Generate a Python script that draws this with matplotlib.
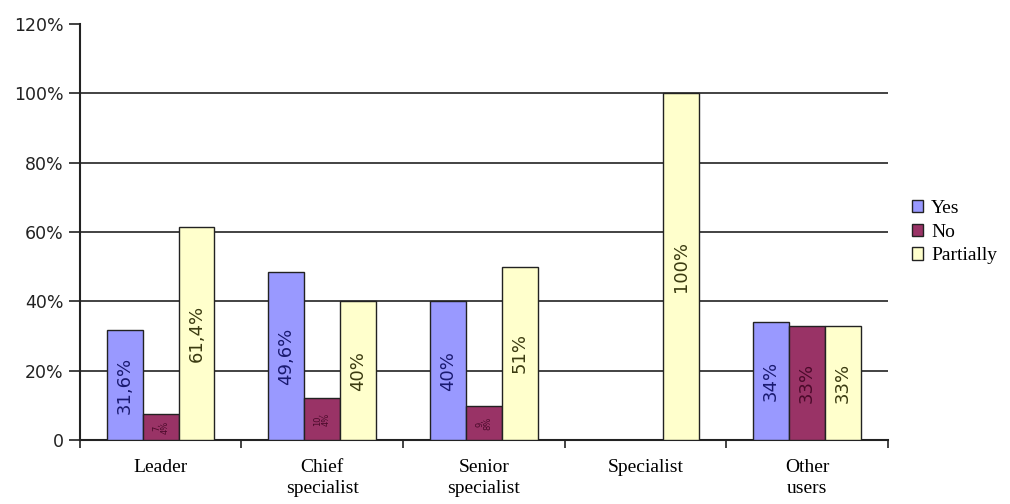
import numpy as np
import matplotlib
matplotlib.use("Agg")
import matplotlib.pyplot as plt

# data
categories = ["Leader", "Chief\nspecialist", "Senior\nspecialist", "Specialist", "Other\nusers"]
series = ["Yes", "No", "Partially"]
yes_vals = [31.6, 48.5, 40, 0, 34]
no_vals = [7.4, 12, 9.8, 0, 33]
part_vals = [61.4, 40, 50, 100, 33]
yes_labels = ["31,6%", "49,6%", "40%", "", "34%"]
no_labels = ["7,\n4%", "10,\n4%", "9,\n8%", "", "33%"]
part_labels = ["61,4%", "40%", "51%", "100%", "33%"]
yticks = [0, 20, 40, 60, 80, 100, 120]
ytick_labels = ["0", "20%", "40%", "60%", "80%", "100%", "120%"]

colors = ["#9999FF", "#993366", "#FFFFCC"]
label_colors = ["#1a1a70", "#4a0a2a", "#3a3a10"]

fig = plt.figure(figsize=(10.1, 5.04), dpi=100)
ax = fig.add_axes([0.079, 0.127, 0.8, 0.825])

x = np.arange(len(categories))
w = 0.222
all_vals = [yes_vals, no_vals, part_vals]
all_labels = [yes_labels, no_labels, part_labels]

for i in range(3):
    pos = x + (i - 1) * w
    bars = ax.bar(pos, all_vals[i], width=w, color=colors[i], edgecolor="#222222",
                  linewidth=1.0, label=series[i], zorder=3)
    for j in range(len(categories)):
        v = all_vals[i][j]
        lab = all_labels[i][j]
        if not lab:
            continue
        small = v < 15
        ax.text(pos[j], v / 2, lab, rotation=90, ha="center", va="center",
                fontsize=6 if small else 13, color=label_colors[i],
                linespacing=0.9, zorder=4)
pass

# gridlines (none at the top)
for t in yticks[1:-1]:
    ax.axhline(t, color="#222222", linewidth=1.2, zorder=0)

ax.set_xlim(-0.5, len(categories) - 0.5)
ax.set_ylim(0, 120)
ax.set_yticks(yticks)
ax.set_yticklabels(ytick_labels, fontsize=12.5, color="#222222")
ax.tick_params(axis="y", length=8, width=1.2, color="#222222")

# category labels between boundary ticks
ax.set_xticks(np.arange(len(categories) + 1) - 0.5)
ax.set_xticklabels([])
ax.tick_params(axis="x", length=6, width=1.2, color="#222222")
for j, c in enumerate(categories):
    ax.text(x[j], -5.5, c, ha="center", va="top", fontsize=14,
            family="Liberation Serif", linespacing=1.3)

for s in ["top", "right"]:
    ax.spines[s].set_visible(False)
ax.spines["left"].set_linewidth(1.5)
ax.spines["bottom"].set_linewidth(1.5)
ax.spines["left"].set_color("#222222")
ax.spines["bottom"].set_color("#222222")

leg = ax.legend(loc="center left", bbox_to_anchor=(1.008, 0.5), frameon=False,
                prop={"family": "Liberation Serif", "size": 14},
                handlelength=0.6, handleheight=0.6, handletextpad=0.4,
                labelspacing=0.35)

fig.savefig("out.png", dpi=100)
